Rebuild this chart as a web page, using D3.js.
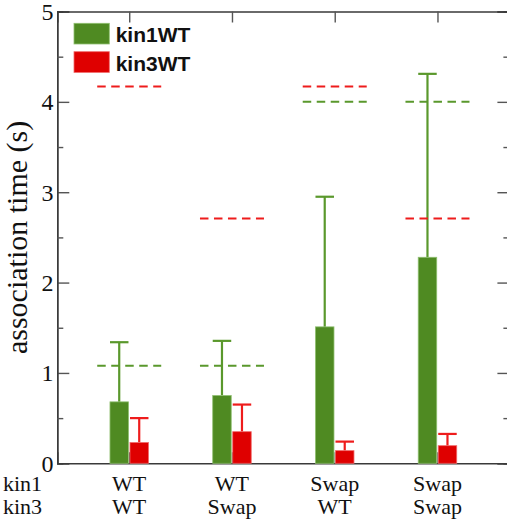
<!DOCTYPE html>
<html>
<head>
<meta charset="utf-8">
<script src="https://cdn.jsdelivr.net/npm/d3@7"></script>
<style>
  html, body { margin: 0; padding: 0; background: #fff; }
  svg { display: block; }
</style>
</head>
<body>
<div id="chart"></div>
<script>
// Genotype labels for each condition
const kin1Labels = ["WT", "WT", "Swap", "Swap"];
const kin3Labels = ["WT", "Swap", "WT", "Swap"];
const rowNames = ["kin1", "kin3"];

// Mean association times (s) and upper error-bar limits
const kin1Mean = [0.68, 0.75, 1.51, 2.28];
const kin1Upper = [1.34, 1.355, 2.95, 4.31];
const kin3Mean = [0.23, 0.35, 0.14, 0.195];
const kin3Upper = [0.50, 0.65, 0.24, 0.325];

// Reference levels drawn as dashed lines
const kin1Ref = [1.08, 1.08, 4.0, 4.0];
const kin3Ref = [4.17, 2.71, 4.17, 2.71];

const yTicks = [0, 1, 2, 3, 4, 5];
const yMinor = [0.5, 1.5, 2.5, 3.5, 4.5];
const legendLabels = ["kin1WT", "kin3WT"];

const W = 507, H = 523;
const green = "#4f8a22", greenEdge = "#8fbf70", greenLine = "#5a982c";
const red = "#df0000", redEdge = "#f06a6a", redLine = "#ee1c1c";
const axisColor = "#3a3a3a";

const svg = d3.select("#chart").append("svg")
  .attr("width", W).attr("height", H);

const x = d3.scaleLinear().domain([0.3, 4.7]).range([57.3, 509.4]);
const y = d3.scaleLinear().domain([0, 5]).range([463.3, 11.5]);
const idx = d3.range(kin1Labels.length).map(i => i + 1);
const barW = 18.5, off = 10, refHalf = 32;

// Frame with ticks on all sides
const axLeft = svg.append("g").attr("transform", `translate(${x(0.3)},0)`)
  .call(d3.axisRight(y).tickValues(yTicks).tickSize(12).tickFormat(""));
const axLeftMinor = svg.append("g").attr("transform", `translate(${x(0.3)},0)`)
  .call(d3.axisRight(y).tickValues(yMinor).tickSize(6).tickFormat(""));
const axRight = svg.append("g").attr("transform", `translate(${x(4.7)},0)`)
  .call(d3.axisLeft(y).tickValues(yTicks).tickSize(12).tickFormat(""));
const axRightMinor = svg.append("g").attr("transform", `translate(${x(4.7)},0)`)
  .call(d3.axisLeft(y).tickValues(yMinor).tickSize(6).tickFormat(""));
const axTop = svg.append("g").attr("transform", `translate(0,${y(5)})`)
  .call(d3.axisBottom(x).tickValues(idx).tickSize(11).tickFormat(""));
const axBottom = svg.append("g").attr("transform", `translate(0,${y(0)})`)
  .call(d3.axisTop(x).tickValues(idx).tickSize(11).tickFormat(""));
[axLeft, axLeftMinor, axRight, axRightMinor, axTop, axBottom].forEach(g => {
  g.select(".domain").attr("stroke", axisColor).attr("stroke-width", 1.4);
  g.selectAll(".tick line").attr("stroke", "#555").attr("stroke-width", 1.4);
});

const serif = "'Liberation Serif', 'Times New Roman', serif";

// Y tick labels
svg.append("g").selectAll("text").data(yTicks).join("text")
  .attr("x", 53.5).attr("y", d => y(d)).attr("dy", "0.35em")
  .attr("text-anchor", "end")
  .attr("font-family", serif)
  .attr("font-size", 24).attr("fill", "#111")
  .text(d => d);

// Y axis title
svg.append("text")
  .attr("transform", `translate(26.5,${(y(0) + y(5)) / 2}) rotate(-90)`)
  .attr("text-anchor", "middle")
  .attr("font-family", serif)
  .attr("font-size", 30).attr("fill", "#111")
  .text("association time (s)");

// Error bars (drawn beneath the bars)
function errorBars(means, uppers, dx, color) {
  const g = svg.append("g");
  g.selectAll("line.v").data(idx).join("line").attr("class", "v")
    .attr("x1", d => x(d) + dx).attr("x2", d => x(d) + dx)
    .attr("y1", (d, i) => y(means[i])).attr("y2", (d, i) => y(uppers[i]))
    .attr("stroke", color).attr("stroke-width", 2.2);
  g.selectAll("line.c").data(idx).join("line").attr("class", "c")
    .attr("x1", d => x(d) + dx - barW / 2).attr("x2", d => x(d) + dx + barW / 2)
    .attr("y1", (d, i) => y(uppers[i])).attr("y2", (d, i) => y(uppers[i]))
    .attr("stroke", color).attr("stroke-width", 2.2);
}
errorBars(kin1Mean, kin1Upper, -off, greenLine);
errorBars(kin3Mean, kin3Upper, off, redLine);

// Bars
function bars(means, dx, fill, edge) {
  svg.append("g").selectAll("rect").data(idx).join("rect")
    .attr("x", d => x(d) + dx - barW / 2)
    .attr("width", barW)
    .attr("y", (d, i) => y(means[i]))
    .attr("height", (d, i) => y(0) - y(means[i]))
    .attr("fill", fill).attr("stroke", edge).attr("stroke-width", 0.8);
}
bars(kin1Mean, -off, green, greenEdge);
bars(kin3Mean, off, red, redEdge);

// Dashed reference levels
function refLines(vals, color) {
  svg.append("g").selectAll("line").data(idx).join("line")
    .attr("x1", d => x(d) - refHalf).attr("x2", d => x(d) + refHalf)
    .attr("y1", (d, i) => y(vals[i])).attr("y2", (d, i) => y(vals[i]))
    .attr("stroke", color).attr("stroke-width", 2)
    .attr("stroke-dasharray", "8.5,5.5");
}
refLines(kin1Ref, greenLine);
refLines(kin3Ref, redLine);

// Two rows of genotype labels under the axis
const rowY = [490.5, 514], catSize = 22;
function rowText(cx, cy, anchor, s) {
  svg.append("text")
    .attr("x", cx).attr("y", cy).attr("text-anchor", anchor)
    .attr("font-family", serif).attr("font-size", catSize).attr("fill", "#111")
    .text(s);
}
rowNames.forEach((s, k) => rowText(3, rowY[k], "start", s));
idx.forEach((d, i) => {
  rowText(x(d), rowY[0], "middle", kin1Labels[i]);
  rowText(x(d), rowY[1], "middle", kin3Labels[i]);
});

// Legend
const legend = svg.append("g");
const legendColors = [[green, greenEdge], [red, redEdge]];
legendLabels.forEach((lab, i) => {
  legend.append("rect")
    .attr("x", 74).attr("y", 23.3 + i * 28.4)
    .attr("width", 35.3).attr("height", 20.7)
    .attr("fill", legendColors[i][0]).attr("stroke", legendColors[i][1]).attr("stroke-width", 0.8);
  legend.append("text")
    .attr("x", 115.7).attr("y", 42 + i * 28.6)
    .attr("font-family", "'Liberation Sans', Arial, sans-serif")
    .attr("font-weight", "bold").attr("font-size", 21).attr("fill", "#111")
    .text(lab);
});
</script>
</body>
</html>
